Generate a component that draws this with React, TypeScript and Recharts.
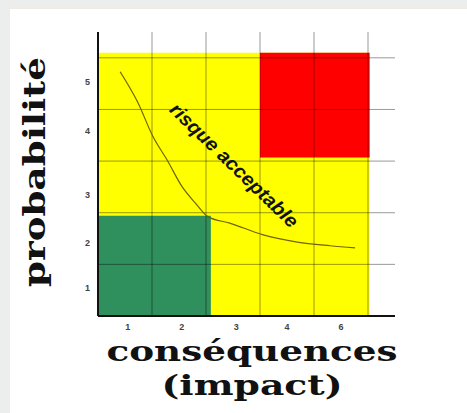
import React from "react";
import {
  ComposedChart,
  Line,
  XAxis,
  YAxis,
  ReferenceArea,
  ReferenceLine,
  ReferenceDot,
} from "recharts";

// courbe "risque acceptable"
const curveX = [0.41, 0.74, 1.02, 1.28, 1.56, 1.8, 2.04, 2.44, 3.06, 3.69, 4.3, 4.76];
const curveY = [4.73, 4.13, 3.47, 3.02, 2.5, 2.19, 1.92, 1.8, 1.57, 1.43, 1.36, 1.32];

// zones de la matrice
const zoneX1 = [0, 3, 0];
const zoneX2 = [5.03, 5.03, 2.09];
const zoneY1 = [0, 3.07, 0];
const zoneY2 = [5.1, 5.1, 1.94];
const zoneColors = ["#ffff00", "#ff0000", "#2f8f5d"];

const gridValues = [1, 2, 3, 4, 5];

const xTickPos = [0.55, 1.55, 2.56, 3.5, 4.5];
const xTickLabels = ["1", "2", "3", "4", "6"];
const yTickPos = [0.54, 1.42, 2.35, 3.58, 4.53];
const yTickLabels = ["1", "2", "3", "4", "5"];

const data = curveX.map((x, i) => ({ x, y: curveY[i] }));

const tickStyle = {
  fontSize: 9,
  fontWeight: 700,
  fill: "#444",
  fontFamily: "Liberation Sans, Arial, sans-serif",
};

const serif = "DejaVu Serif, serif";

export default function App() {
  return (
    <div
      style={{
        position: "absolute",
        left: 0,
        top: 0,
        width: 467,
        height: 413,
        background: "#eceeed",
        overflow: "hidden",
      }}
    >
      <div
        style={{
          position: "absolute",
          left: 10,
          top: 8,
          right: 0,
          bottom: 0,
          background: "#fff",
          borderTop: "1px solid #f2ebe0",
        }}
      />
      <div style={{ position: "absolute", left: 0, top: 0 }}>
        <ComposedChart
          width={467}
          height={413}
          data={data}
          margin={{ top: 32, right: 72, bottom: 67, left: 78 }}
        >
          {zoneColors.map((c, i) => (
            <ReferenceArea
              key={"z" + i}
              x1={zoneX1[i]}
              x2={zoneX2[i]}
              y1={zoneY1[i]}
              y2={zoneY2[i]}
              fill={c}
              fillOpacity={1}
              stroke="none"
              ifOverflow="visible"
            />
          ))}
          {gridValues.map((v) => (
            <ReferenceLine key={"gx" + v} x={v} stroke="rgba(0,0,0,0.4)" strokeWidth={1} />
          ))}
          {gridValues.map((v) => (
            <ReferenceLine key={"gy" + v} y={v} stroke="rgba(0,0,0,0.4)" strokeWidth={1} />
          ))}
          <XAxis
            dataKey="x"
            type="number"
            domain={[0, 5.5]}
            ticks={xTickPos}
            interval={0}
            tickFormatter={(v, i) => xTickLabels[i]}
            tick={tickStyle}
            tickLine={false}
            tickSize={0}
            tickMargin={8}
            axisLine={{ stroke: "#111", strokeWidth: 2 }}
            height={30}
            allowDataOverflow
          />
          <YAxis
            type="number"
            domain={[0, 5.5]}
            ticks={yTickPos}
            interval={0}
            tickFormatter={(v, i) => yTickLabels[i]}
            tick={tickStyle}
            tickLine={false}
            tickSize={0}
            tickMargin={8}
            axisLine={{ stroke: "#111", strokeWidth: 2 }}
            width={20}
            allowDataOverflow
          />
          <Line
            type="monotone"
            dataKey="y"
            stroke="#6f6400"
            strokeWidth={1.2}
            dot={false}
            isAnimationActive={false}
          />
          <ReferenceDot
            x={2.52}
            y={2.92}
            r={0}
            ifOverflow="visible"
            shape={(p: any) => (
              <text
                x={p.cx}
                y={p.cy}
                transform={`rotate(44 ${p.cx} ${p.cy})`}
                textAnchor="middle"
                dominantBaseline="central"
                fontFamily="Liberation Sans Narrow, Liberation Sans, Arial, sans-serif"
                fontWeight={700}
                fontStyle="italic"
                fontSize={19}
                fill="#111"
                textLength={170}
                lengthAdjust="spacingAndGlyphs"
              >
                risque acceptable
              </text>
            )}
          />
          <text
            x={252}
            y={361}
            textAnchor="middle"
            fontFamily={serif}
            fontWeight={700}
            fontSize={27}
            fill="#111"
            textLength={291}
            lengthAdjust="spacingAndGlyphs"
          >
            conséquences
          </text>
          <text
            x={252}
            y={395}
            textAnchor="middle"
            fontFamily={serif}
            fontWeight={700}
            fontSize={27}
            fill="#111"
            textLength={181}
            lengthAdjust="spacingAndGlyphs"
          >
            (impact)
          </text>
          <text
            x={45}
            y={172}
            transform="rotate(-90 45 172)"
            textAnchor="middle"
            fontFamily={serif}
            fontWeight={700}
            fontSize={29}
            fill="#111"
            textLength={230}
            lengthAdjust="spacingAndGlyphs"
          >
            probabilité
          </text>
        </ComposedChart>
      </div>
    </div>
  );
}
